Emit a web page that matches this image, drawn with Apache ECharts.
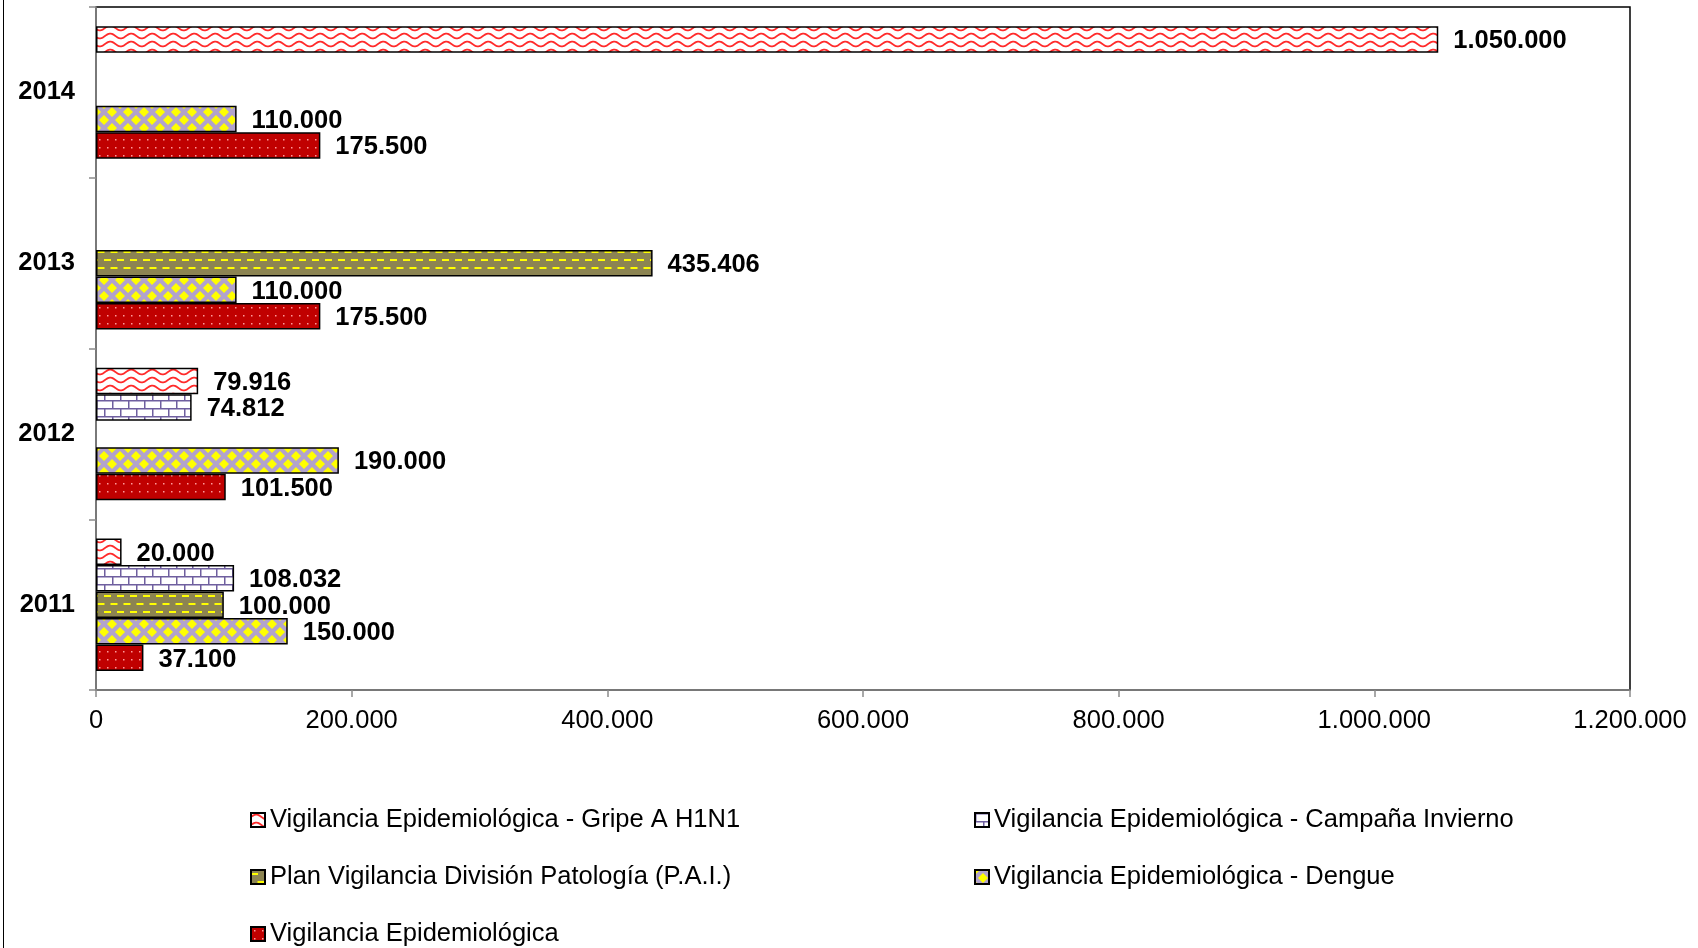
<!DOCTYPE html>
<html>
<head>
<meta charset="utf-8">
<script src="https://cdn.jsdelivr.net/npm/echarts@6/dist/echarts.min.js"></script>
<style>
  html, body { margin: 0; padding: 0; background: #fff; }
  #main { width: 1698px; height: 948px; }
  #frame { position: absolute; left: 3px; top: 0; width: 0; height: 948px; border-left: 1.5px solid #000; }
</style>
</head>
<body>
<div id="main"></div>
<div id="frame"></div>
<script>
// datos
var years = ['2011', '2012', '2013', '2014']
var gripe = [20000, 79916, null, 1050000]
var campana = [108032, 74812, null, null]
var pai = [100000, null, 435406, null]
var dengue = [150000, 190000, 110000, 110000]
var vigilancia = [37100, 101500, 175500, 175500]
var xTicks = [0, 200000, 400000, 600000, 800000, 1000000, 1200000]

var names = [
  'Vigilancia Epidemiológica - Gripe A H1N1',
  'Vigilancia Epidemiológica - Campaña Invierno',
  'Plan Vigilancia División Patología (P.A.I.)',
  'Vigilancia Epidemiológica - Dengue',
  'Vigilancia Epidemiológica'
]

function fmt (v) {
  return String(Math.round(v)).replace(/\B(?=(\d{3})+(?!\d))/g, '.')
}

// tramas de relleno
function pattern (w, h, bg, draw) {
  var c = document.createElement('canvas')
  c.width = w
  c.height = h
  var ctx = c.getContext('2d')
  ctx.fillStyle = bg
  ctx.fillRect(0, 0, w, h)
  draw(ctx, w, h)
  return { image: c, repeat: 'repeat' }
}

var pGripe = pattern(21, 8, '#ffffff', function (ctx, w, h) {
  ctx.strokeStyle = '#ff2a2a'
  ctx.lineWidth = 1.8
  ctx.beginPath()
  for (var x = -1; x <= w + 1; x += 0.5) {
    var y = 4 - 2.4 * Math.sin(x / w * Math.PI * 2)
    if (x === -1) ctx.moveTo(x, y); else ctx.lineTo(x, y)
  }
  ctx.stroke()
})

var pCampana = pattern(16, 16, '#ffffff', function (ctx) {
  ctx.fillStyle = '#6f5f9f'
  ctx.fillRect(0, 0, 16, 1.5)
  ctx.fillRect(0, 8, 16, 1.5)
  ctx.fillRect(0, 0, 1.5, 8)
  ctx.fillRect(8, 8, 1.5, 8)
})

var pPai = pattern(13, 16, '#8c8452', function (ctx) {
  ctx.fillStyle = '#ffff00'
  ctx.fillRect(0, 3, 7, 2)
  ctx.fillRect(6.5, 11, 7, 2)
  ctx.fillRect(-6.5, 11, 7, 2)
})

var pDengue = pattern(16, 16, '#b2a3cc', function (ctx) {
  ctx.fillStyle = '#ffff00'
  var centers = [[8, 8], [0, 0], [16, 0], [0, 16], [16, 16]]
  centers.forEach(function (p) {
    ctx.beginPath()
    ctx.moveTo(p[0], p[1] - 5)
    ctx.lineTo(p[0] + 5, p[1])
    ctx.lineTo(p[0], p[1] + 5)
    ctx.lineTo(p[0] - 5, p[1])
    ctx.closePath()
    ctx.fill()
  })
})

var pVigilancia = pattern(8, 8, '#c00000', function (ctx) {
  ctx.fillStyle = '#ff9a9a'
  ctx.fillRect(3, 3, 1.5, 1.5)
})

var font = '"Liberation Sans", Arial, sans-serif'

function serie (name, data, fill) {
  return {
    name: name,
    type: 'bar',
    data: data,
    barWidth: 26.5,
    barGap: '0%',
    itemStyle: { color: fill, borderColor: '#000', borderWidth: 1.5 },
    label: {
      show: true,
      position: 'right',
      distance: 15,
      offset: [0, 2],
      color: '#000',
      fontFamily: font,
      fontWeight: 'bold',
      fontSize: 25.5,
      formatter: function (p) { return fmt(p.value) }
    }
  }
}

function leyenda (items, left) {
  return {
    data: items,
    orient: 'vertical',
    left: left,
    top: 807,
    padding: 0,
    icon: 'rect',
    itemWidth: 14,
    itemHeight: 14,
    itemGap: 31,
    textStyle: { fontFamily: font, fontSize: 25.5, lineHeight: 26, color: '#000' }
  }
}

var main = document.getElementById('main')
var myChart = echarts.init(main)

myChart.setOption({
  animation: false,
  grid: {
    left: 96,
    right: 68,
    top: 7,
    bottom: 258,
    show: true,
    borderColor: '#000',
    borderWidth: 1.5
  },
  legend: [
    leyenda([names[0], names[2], names[4]], 250),
    leyenda([names[1], names[3]], 974)
  ],
  xAxis: {
    type: 'value',
    min: xTicks[0],
    max: xTicks[xTicks.length - 1],
    interval: xTicks[1] - xTicks[0],
    splitLine: { show: false },
    axisLine: { show: true, lineStyle: { color: '#8c8c8c', width: 1.5 } },
    axisTick: { show: true, length: 7, lineStyle: { color: '#8c8c8c', width: 1.5 } },
    axisLabel: {
      margin: 18,
      color: '#000',
      fontFamily: font,
      fontSize: 25.5,
      formatter: function (v) { return fmt(v) }
    }
  },
  yAxis: {
    type: 'category',
    data: years,
    axisLine: { show: true, lineStyle: { color: '#8c8c8c', width: 1.5 } },
    axisTick: { show: true, length: 7, lineStyle: { color: '#8c8c8c', width: 1.5 } },
    axisLabel: {
      margin: 21,
      color: '#000',
      fontFamily: font,
      fontWeight: 'bold',
      fontSize: 25.5
    }
  },
  series: [
    serie(names[0], gripe, pGripe),
    serie(names[1], campana, pCampana),
    serie(names[2], pai, pPai),
    serie(names[3], dengue, pDengue),
    serie(names[4], vigilancia, pVigilancia)
  ]
})
</script>
</body>
</html>
